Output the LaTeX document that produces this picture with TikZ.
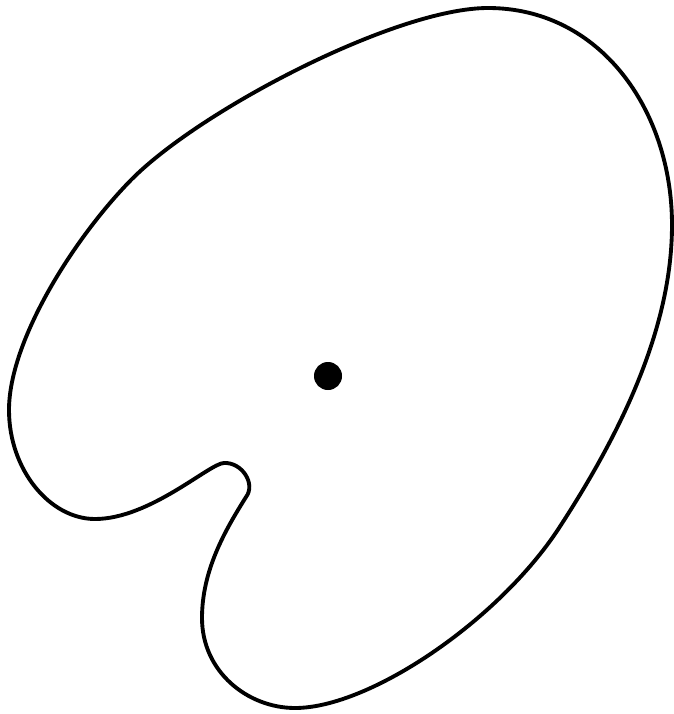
\documentclass[tikz,border=0pt]{standalone}
\usepackage{tikz}

\begin{document}
\tikzset{every picture/.style={line width=0.75pt}}

\begin{tikzpicture}[x=0.75pt,y=0.75pt,yscale=-1,xscale=1]
\useasboundingbox (0,0) rectangle (674,714); %set diagram left start at 0, and has height of 714

%Curve Lines [outline]
\draw [color={rgb, 255:red, 0; green, 0; blue, 0 }  ,draw opacity=1 ][line width=2.9]    (488,8) .. controls (600,8) and (672,110) .. (672,225) .. controls (672,330) and (619,436) .. (559,528) .. controls (499,620) and (370,708) .. (295,708) .. controls (248,708) and (202,672) .. (202,618) .. controls (202,570) and (225.5,529.7) .. (246,497) .. controls (256,484) and (242,462) .. (224,463) .. controls (210,463) and (150,519) .. (95,519) .. controls (50,519) and (9,470) .. (9,410) .. controls (9,340) and (75,237) .. (131,180) .. controls (200,110) and (396,8) .. cycle ;
%Dot
\draw [fill={rgb, 255:red, 0; green, 0; blue, 0 }  ,fill opacity=1 ][line width=0.75]  (328,376) circle [radius=13.5] ;

\end{tikzpicture}
\end{document}
